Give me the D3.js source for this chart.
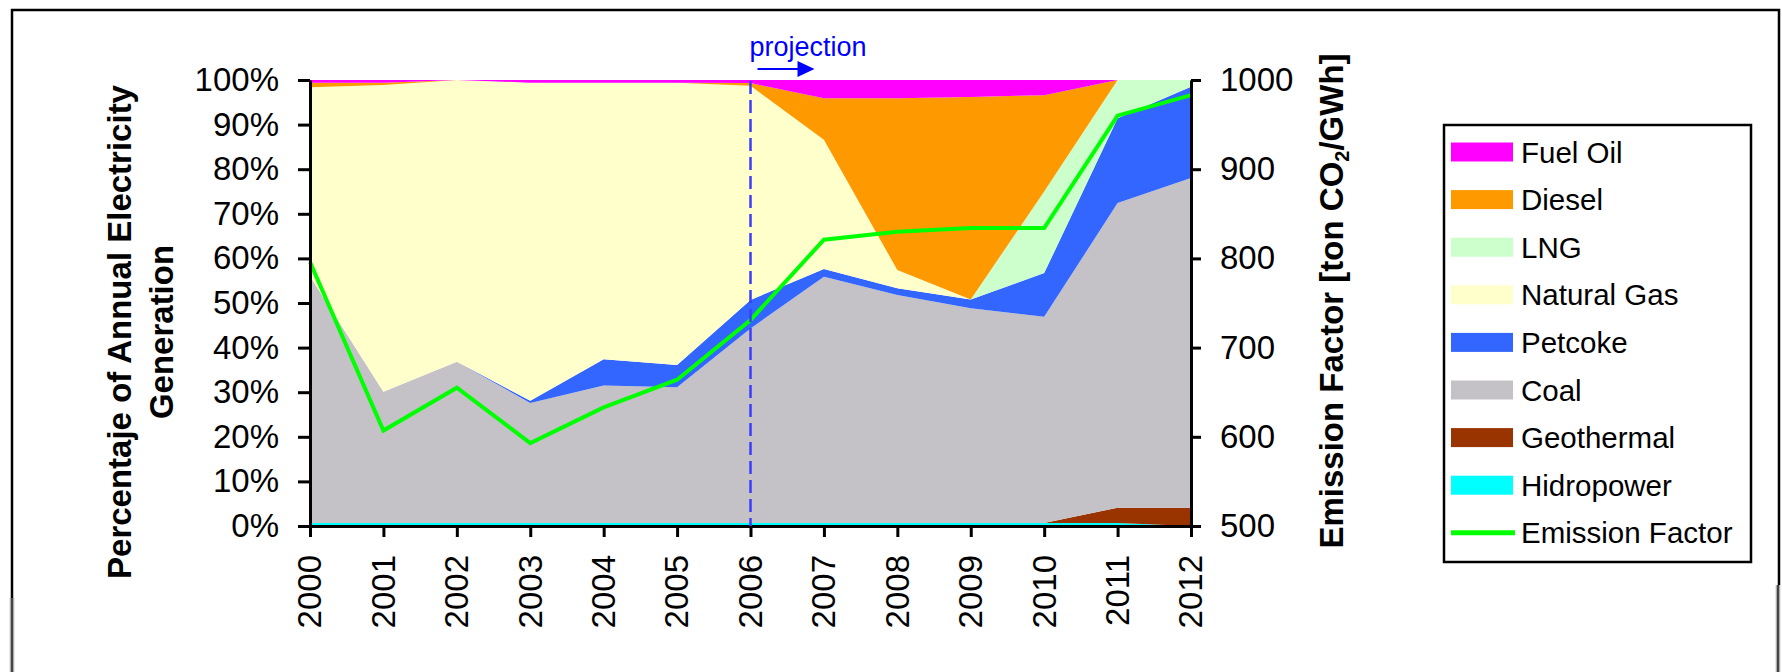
<!DOCTYPE html>
<html>
<head>
<meta charset="utf-8">
<script src="https://cdn.jsdelivr.net/npm/d3@7"></script>
<style>
  html, body { margin: 0; padding: 0; background: #ffffff; }
  svg { display: block; font-family: "Liberation Sans", Arial, sans-serif; }
</style>
</head>
<body>
<svg id="chart" width="1782" height="672"></svg>
<script>
// Share of annual electricity generation by source (%), 2000-2012 (2006+ projected)
const years = [2000, 2001, 2002, 2003, 2004, 2005, 2006, 2007, 2008, 2009, 2010, 2011, 2012];
const hidropower = [0.7, 0.7, 0.7, 0.7, 0.7, 0.7, 0.7, 0.7, 0.7, 0.7, 0.7, 0.7, 0];
const geothermal = [0, 0, 0, 0, 0, 0, 0, 0, 0, 0, 0, 3.4, 4.1];
const coal       = [55.3, 29.4, 36.1, 26.9, 30.8, 30.4, 43.6, 55.2, 51.1, 48.1, 46.2, 68.3, 73.9];
const petcoke    = [0, 0, 0, 0.5, 5.9, 5.0, 6.4, 1.7, 1.5, 2.0, 9.8, 19.0, 20.5];
const naturalGas = [42.4, 68.8, 63.2, 71.3, 62.0, 63.3, 48.0, 29.0, 4.1, 0, 0, 0, 0];
const lng        = [0, 0, 0, 0, 0, 0, 0, 0, 0, 0, 18.3, 8.6, 1.5];
const diesel     = [1.0, 0.5, 0, 0, 0, 0, 0.6, 9.3, 38.5, 45.4, 21.6, 0, 0];
const fuelOil    = [0.6, 0.6, 0, 0.6, 0.6, 0.6, 0.7, 4.1, 4.1, 3.8, 3.4, 0, 0];

// Grid emission factor (ton CO2/GWh)
const emissionFactor = [796, 607, 655, 593, 633, 664, 731, 821, 830, 834, 834, 960, 983];

const percentTicks = [0, 10, 20, 30, 40, 50, 60, 70, 80, 90, 100];
const factorTicks = [500, 600, 700, 800, 900, 1000];
const projectionStart = 2006;

// Stack order bottom to top, with fill colours
const seriesKeys = ["Hidropower", "Geothermal", "Coal", "Petcoke", "Natural Gas", "LNG", "Diesel", "Fuel Oil"];
const seriesValues = [hidropower, geothermal, coal, petcoke, naturalGas, lng, diesel, fuelOil];
const seriesColors = ["#00ffff", "#993300", "#c4c2c6", "#3366ff", "#ffffcc", "#ccffcc", "#ff9900", "#ff00ff"];
const lineColor = "#00ff00";

const table = years.map((yr, i) => {
  const row = { year: yr };
  seriesKeys.forEach((k, j) => { row[k] = seriesValues[j][i]; });
  return row;
});

const svg = d3.select("#chart");

// Outer frame
const frame = svg.append("g");
frame.append("path").attr("d", "M12,598 L12,10 L1779,10 L1779,585")
  .attr("fill", "none").attr("stroke", "#000").attr("stroke-width", 2.5);
[[12, 598], [1778, 585]].forEach(([fx, fy]) => {
  frame.append("line").attr("x1", fx).attr("x2", fx).attr("y1", fy).attr("y2", 672)
    .attr("stroke", "#cfcfcf").attr("stroke-width", 5);
  frame.append("line").attr("x1", fx).attr("x2", fx).attr("y1", fy).attr("y2", 672)
    .attr("stroke", "#454545").attr("stroke-width", 2.5);
});

const plot = { left: 310, right: 1191, top: 80, bottom: 526 };

const x = d3.scaleLinear().domain([years[0], years[years.length - 1]]).range([plot.left, plot.right]);
const yL = d3.scaleLinear().domain([0, 100]).range([plot.bottom, plot.top]);
const yR = d3.scaleLinear().domain([500, 1000]).range([plot.bottom, plot.top]);

// Stacked areas
const stacked = d3.stack().keys(seriesKeys)(table);
const area = d3.area()
  .x(d => x(d.data.year))
  .y0(d => yL(d[0]))
  .y1(d => yL(d[1]));

svg.append("g").selectAll("path")
  .data(stacked)
  .join("path")
  .attr("fill", (d, i) => seriesColors[i])
  .attr("d", area);

// Emission factor line on the right-hand scale
const efLine = d3.line()
  .x((d, i) => x(years[i]))
  .y(d => yR(d));
svg.append("path")
  .datum(emissionFactor)
  .attr("fill", "none")
  .attr("stroke", lineColor)
  .attr("stroke-width", 4)
  .attr("d", efLine);

// Axes
const fontTick = 33;
const styleAxis = g => {
  g.select(".domain").attr("stroke", "#000").attr("stroke-width", 3);
  g.selectAll(".tick line").attr("stroke", "#000").attr("stroke-width", 3);
  g.selectAll(".tick text").attr("fill", "#000").attr("font-size", fontTick)
    .attr("font-family", "'Liberation Sans', Arial, sans-serif");
};

svg.append("g")
  .attr("transform", `translate(${plot.left},0)`)
  .call(d3.axisLeft(yL).tickValues(percentTicks).tickFormat(d => d + "%").tickSize(12).tickSizeOuter(0).tickPadding(19))
  .call(styleAxis);

svg.append("g")
  .attr("transform", `translate(${plot.right},0)`)
  .call(d3.axisRight(yR).tickValues(factorTicks).tickFormat(d3.format("d")).tickSize(10).tickSizeOuter(0).tickPadding(19))
  .call(styleAxis);

const xAxis = svg.append("g")
  .attr("transform", `translate(0,${plot.bottom})`)
  .call(d3.axisBottom(x).tickValues(years).tickFormat(d3.format("d")).tickSize(11).tickSizeOuter(0))
  .call(styleAxis);
xAxis.selectAll(".tick text")
  .attr("transform", "rotate(-90)")
  .attr("text-anchor", "end")
  .attr("x", -29)
  .attr("y", 0)
  .attr("dy", "0.33em");

// Projection marker
svg.append("line")
  .attr("x1", x(projectionStart)).attr("x2", x(projectionStart))
  .attr("y1", plot.top + 1).attr("y2", plot.bottom)
  .attr("stroke", "#3c3cff").attr("stroke-width", 2.5)
  .attr("stroke-dasharray", "13,6");

svg.append("text")
  .attr("x", x(projectionStart) - 1).attr("y", 56)
  .attr("fill", "#0000ff").attr("font-size", 27)
  .text("projection");
svg.append("line")
  .attr("x1", x(projectionStart) + 7).attr("x2", x(projectionStart) + 50)
  .attr("y1", 69).attr("y2", 69)
  .attr("stroke", "#0000ff").attr("stroke-width", 2);
svg.append("path")
  .attr("d", d3.line()([[x(projectionStart) + 47, 61], [x(projectionStart) + 64, 69], [x(projectionStart) + 47, 77]]) + "Z")
  .attr("fill", "#0000ff");

// Axis titles
svg.append("text")
  .attr("transform", "translate(131,332) rotate(-90)")
  .attr("text-anchor", "middle").attr("font-weight", "bold").attr("font-size", 33)
  .text("Percentaje of Annual Electricity");
svg.append("text")
  .attr("transform", "translate(173,332) rotate(-90)")
  .attr("text-anchor", "middle").attr("font-weight", "bold").attr("font-size", 33)
  .text("Generation");

const rTitle = svg.append("text")
  .attr("transform", "translate(1343,301) rotate(-90)")
  .attr("text-anchor", "middle").attr("font-weight", "bold").attr("font-size", 33);
rTitle.append("tspan").text("Emission Factor [ton CO");
rTitle.append("tspan").attr("font-size", 20).attr("dy", 6).text("2");
rTitle.append("tspan").attr("dy", -6).text("/GWh]");

// Legend
const legend = svg.append("g");
legend.append("rect")
  .attr("x", 1444).attr("y", 125).attr("width", 307).attr("height", 437)
  .attr("fill", "#fff").attr("stroke", "#000").attr("stroke-width", 2.5);

const legendItems = seriesKeys.map((k, i) => ({ name: k, color: seriesColors[i], type: "area" })).reverse();
legendItems.push({ name: "Emission Factor", color: lineColor, type: "line" });

legendItems.forEach((it, i) => {
  const cy = 152 + i * 47.6;
  if (it.type === "area") {
    legend.append("rect").attr("x", 1451).attr("y", cy - 9.5).attr("width", 62).attr("height", 19)
      .attr("fill", it.color);
  } else {
    legend.append("line").attr("x1", 1451).attr("x2", 1515).attr("y1", cy).attr("y2", cy)
      .attr("stroke", it.color).attr("stroke-width", 5);
  }
  legend.append("text").attr("x", 1521).attr("y", cy).attr("dy", "0.36em")
    .attr("font-size", 29.5).attr("fill", "#000").text(it.name);
});
</script>
</body>
</html>
